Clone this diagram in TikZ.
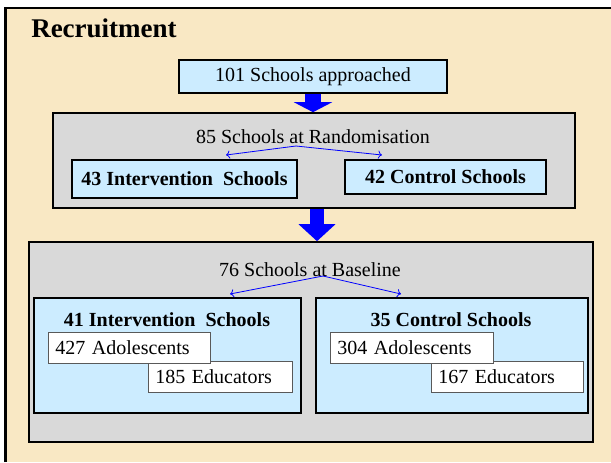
\documentclass[tikz,border=0pt]{standalone}
\usepackage{fontspec}
\setmainfont{Liberation Serif}
\usetikzlibrary{arrows.meta}
\definecolor{paper}{RGB}{249,232,196}
\definecolor{boxblue}{RGB}{204,236,255}
\definecolor{panelgray}{RGB}{217,217,217}

\begin{document}
\begin{tikzpicture}[x=0.75pt, y=-0.75pt, font=\fontsize{15}{18}\selectfont,
    bluebox/.style = {draw, fill=boxblue, line width=1pt, inner sep=0pt},
    panel/.style = {draw, fill=panelgray, line width=1.2pt, inner sep=0pt},
    whitebox/.style = {draw=black!65, fill=white, line width=0.6pt, inner xsep=5.5pt, inner ysep=0pt, minimum height=23.25pt, align=left},
    bold/.style = {font=\fontsize{15}{18}\selectfont\bfseries},
    fork/.style = {draw=blue, line width=0.6pt, ->}]
        % page and frame
        \path[use as bounding box] (0,0) rectangle (611,462);
        \fill[white] (0,0) rectangle (611,462);
        \fill[paper] (5,8) rectangle (611,462);
        \draw[line width=2.2pt] (5.5,462) -- (5.5,8) -- (611,8);

        \node[anchor=west, inner sep=0pt, font=\fontsize{20.25}{24}\selectfont\bfseries] (head) at (31,28) {Recruitment};

        \node[bluebox, minimum width=201pt, minimum height=24.75pt] (appr) at (313,76.5) {101 Schools approached};

        % randomisation
        \node[panel, minimum width=391.5pt, minimum height=71.25pt] (rand) at (314,160.5) {};
        \node (randtxt) at (313,137) {85 Schools at Randomisation};
        \node[bluebox, bold, minimum width=168.75pt, minimum height=28.5pt] (int1) at (184.5,179) {43 Intervention\ \ Schools};
        \node[bluebox, bold, minimum width=150.75pt, minimum height=25.5pt] (con1) at (445.5,177) {42 Control Schools};
        \coordinate (randfork) at (296,146);
        \coordinate (int1top) at (226,155);
        \coordinate (con1top) at (382,155);
        \draw[fork] (randfork) -- (int1top);
        \draw[fork] (randfork) -- (con1top);

        % baseline
        \node[panel, minimum width=423pt, minimum height=150pt] (base) at (311,342) {};
        \node (basetxt) at (310,270) {76 Schools at Baseline};
        \node[bluebox, minimum width=200.25pt, minimum height=86.25pt] (int2) at (167.5,355.5) {};
        \node[bluebox, minimum width=204pt, minimum height=86.25pt] (con2) at (452,355.5) {};
        \node[bold] (int2txt) at (167,320) {41 Intervention\ \ Schools};
        \node[bold] (con2txt) at (451,320) {35 Control Schools};
        \coordinate (basefork) at (323,276);
        \coordinate (int2top) at (230,294);
        \coordinate (con2top) at (401,294);
        \draw[fork] (basefork) -- (int2top);
        \draw[fork] (basefork) -- (con2top);

        \node[whitebox, text width=97pt] (edu1) at (220,376.5) {185 Educators};
        \node[whitebox, text width=110.5pt] (ado1) at (129,347.5) {427 Adolescents};
        \node[whitebox, text width=103pt] (edu2) at (507,376.5) {167 Educators};
        \node[whitebox, text width=111.25pt] (ado2) at (411.5,347.5) {304 Adolescents};

        % big arrows
        \draw[blue, line width=12pt, -{Triangle[width=28.5pt, length=7.5pt]}] (appr.south) -- (appr.south |- rand.north);
        \draw[blue, line width=10.5pt, -{Triangle[width=27pt, length=12.75pt]}] ([xshift=2.25pt]rand.south) -- ([xshift=2.25pt]rand.south |- base.north);
    \end{tikzpicture}
\end{document}
